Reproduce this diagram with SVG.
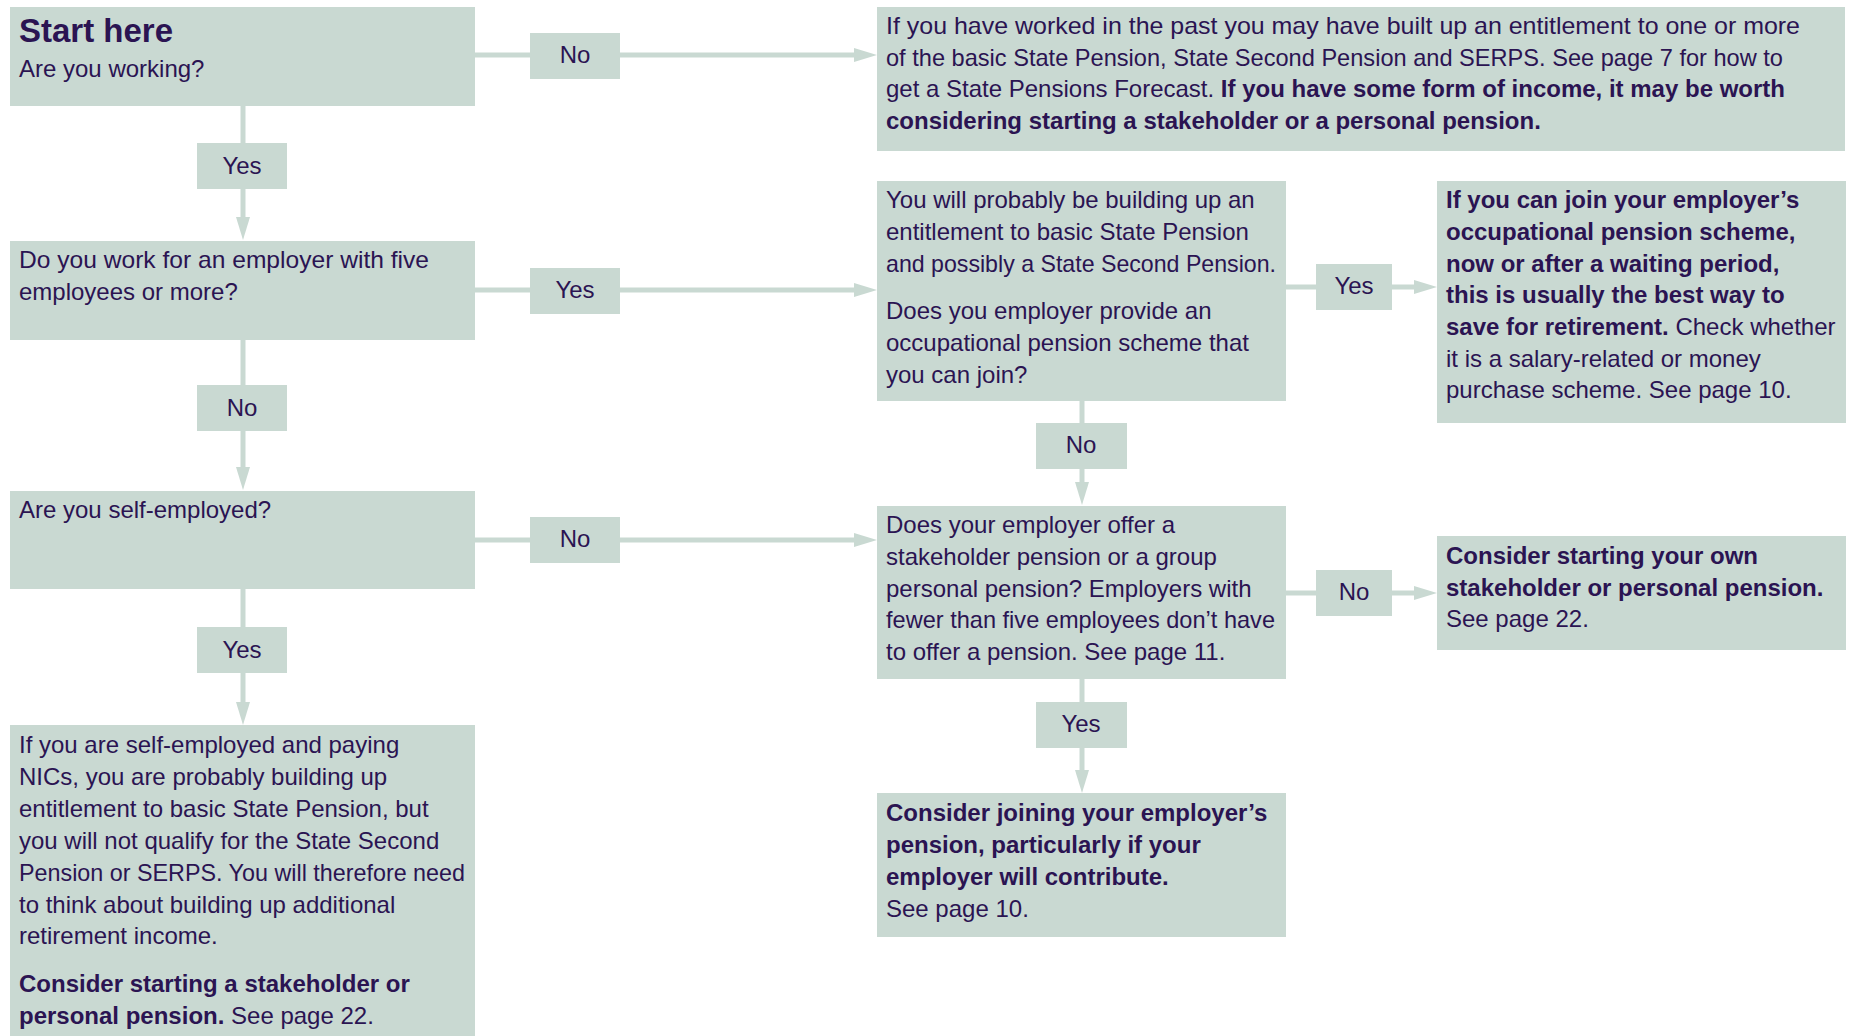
<svg xmlns="http://www.w3.org/2000/svg" width="1859" height="1036" viewBox="0 0 1859 1036">
  <style>
    .box { fill: #C9D9D2; }
    .lbl { fill: #C9D9D2; }
    .t { font-family: "Liberation Sans", Arial, sans-serif; font-size: 24px; fill: #2B1452; }
    .b { font-weight: bold; }
    .c { text-anchor: middle; }
    .h { font-size: 33px; font-weight: bold; }
    .conn { stroke: #C9D9D2; stroke-width: 5; fill: none; }
  </style>
  <defs>
    <marker id="arr" markerUnits="userSpaceOnUse" markerWidth="24" markerHeight="14" refX="0" refY="7" orient="auto">
      <path d="M0,0 L23,7 L0,14 Z" fill="#C9D9D2"/>
    </marker>
  </defs>
  <rect width="1859" height="1036" fill="#FFFFFF"/>

  <g id="connectors">
    <line class="conn" x1="243" y1="106" x2="243" y2="217" marker-end="url(#arr)"/>
    <line class="conn" x1="243" y1="340" x2="243" y2="467" marker-end="url(#arr)"/>
    <line class="conn" x1="243" y1="589" x2="243" y2="702" marker-end="url(#arr)"/>
    <line class="conn" x1="475" y1="55" x2="854" y2="55" marker-end="url(#arr)"/>
    <line class="conn" x1="475" y1="290" x2="854" y2="290" marker-end="url(#arr)"/>
    <line class="conn" x1="475" y1="540" x2="854" y2="540" marker-end="url(#arr)"/>
    <line class="conn" x1="1082" y1="401" x2="1082" y2="482" marker-end="url(#arr)"/>
    <line class="conn" x1="1082" y1="679" x2="1082" y2="770" marker-end="url(#arr)"/>
    <line class="conn" x1="1286" y1="287" x2="1414" y2="287" marker-end="url(#arr)"/>
    <line class="conn" x1="1286" y1="593" x2="1414" y2="593" marker-end="url(#arr)"/>

    <g id="lbl-a-b"><rect class="lbl" x="197" y="143" width="90" height="46"/><text class="t c" x="242" y="174">Yes</text></g>
    <g id="lbl-b-c"><rect class="lbl" x="197" y="385" width="90" height="46"/><text class="t c" x="242" y="416">No</text></g>
    <g id="lbl-c-d"><rect class="lbl" x="197" y="627" width="90" height="46"/><text class="t c" x="242" y="658">Yes</text></g>
    <g id="lbl-a-e"><rect class="lbl" x="530" y="33" width="90" height="46"/><text class="t c" x="575" y="63">No</text></g>
    <g id="lbl-b-f"><rect class="lbl" x="530" y="268" width="90" height="46"/><text class="t c" x="575" y="298">Yes</text></g>
    <g id="lbl-c-g"><rect class="lbl" x="530" y="517" width="90" height="46"/><text class="t c" x="575" y="547">No</text></g>
    <g id="lbl-f-g"><rect class="lbl" x="1036" y="423" width="91" height="46"/><text class="t c" x="1081" y="453">No</text></g>
    <g id="lbl-g-h"><rect class="lbl" x="1036" y="702" width="91" height="46"/><text class="t c" x="1081" y="732">Yes</text></g>
    <g id="lbl-f-i"><rect class="lbl" x="1316" y="264" width="76" height="46"/><text class="t c" x="1354" y="294">Yes</text></g>
    <g id="lbl-g-j"><rect class="lbl" x="1316" y="570" width="76" height="46"/><text class="t c" x="1354" y="600">No</text></g>
  </g>

  <g id="node-start">
    <rect class="box" x="10" y="7" width="465" height="99"/>
    <text class="t h" x="19" y="42">Start here</text>
    <text class="t" x="19" y="77">Are you working?</text>
  </g>

  <g id="node-employer">
    <rect class="box" x="10" y="241" width="465" height="99"/>
    <text class="t" x="19" y="268" textLength="410" lengthAdjust="spacingAndGlyphs">Do you work for an employer with five</text>
    <text class="t" x="19" y="300">employees or more?</text>
  </g>

  <g id="node-self">
    <rect class="box" x="10" y="491" width="465" height="98"/>
    <text class="t" x="19" y="518">Are you self-employed?</text>
  </g>

  <g id="node-self-result">
    <rect class="box" x="10" y="725" width="465" height="311"/>
    <text class="t" x="19" y="753">If you are self-employed and paying</text>
    <text class="t" x="19" y="785">NICs, you are probably building up</text>
    <text class="t" x="19" y="817">entitlement to basic State Pension, but</text>
    <text class="t" x="19" y="849">you will not qualify for the State Second</text>
    <text class="t" x="19" y="881" textLength="446" lengthAdjust="spacingAndGlyphs">Pension or SERPS. You will therefore need</text>
    <text class="t" x="19" y="913">to think about building up additional</text>
    <text class="t" x="19" y="944">retirement income.</text>
    <text class="t b" x="19" y="992">Consider starting a stakeholder or</text>
    <text class="t" x="19" y="1024"><tspan class="b">personal pension.</tspan> See page 22.</text>
  </g>

  <g id="node-past">
    <rect class="box" x="877" y="7" width="968" height="144"/>
    <text class="t" x="886" y="34" textLength="914" lengthAdjust="spacingAndGlyphs">If you have worked in the past you may have built up an entitlement to one or more</text>
    <text class="t" x="886" y="66" textLength="897" lengthAdjust="spacingAndGlyphs">of the basic State Pension, State Second Pension and SERPS. See page 7 for how to</text>
    <text class="t" x="886" y="97">get a State Pensions Forecast. <tspan class="b">If you have some form of income, it may be worth</tspan></text>
    <text class="t b" x="886" y="129">considering starting a stakeholder or a personal pension.</text>
  </g>

  <g id="node-occupational">
    <rect class="box" x="877" y="181" width="409" height="220"/>
    <text class="t" x="886" y="208">You will probably be building up an</text>
    <text class="t" x="886" y="240">entitlement to basic State Pension</text>
    <text class="t" x="886" y="272" textLength="390" lengthAdjust="spacingAndGlyphs">and possibly a State Second Pension.</text>
    <text class="t" x="886" y="319">Does you employer provide an</text>
    <text class="t" x="886" y="351">occupational pension scheme that</text>
    <text class="t" x="886" y="383">you can join?</text>
  </g>

  <g id="node-join-occupational">
    <rect class="box" x="1437" y="181" width="409" height="242"/>
    <text class="t b" x="1446" y="208">If you can join your employer’s</text>
    <text class="t b" x="1446" y="240">occupational pension scheme,</text>
    <text class="t b" x="1446" y="272">now or after a waiting period,</text>
    <text class="t b" x="1446" y="303">this is usually the best way to</text>
    <text class="t" x="1446" y="335"><tspan class="b">save for retirement.</tspan> Check whether</text>
    <text class="t" x="1446" y="367">it is a salary-related or money</text>
    <text class="t" x="1446" y="398">purchase scheme. See page 10.</text>
  </g>

  <g id="node-stakeholder-offer">
    <rect class="box" x="877" y="506" width="409" height="173"/>
    <text class="t" x="886" y="533">Does your employer offer a</text>
    <text class="t" x="886" y="565">stakeholder pension or a group</text>
    <text class="t" x="886" y="597">personal pension? Employers with</text>
    <text class="t" x="886" y="628" textLength="389" lengthAdjust="spacingAndGlyphs">fewer than five employees don’t have</text>
    <text class="t" x="886" y="660">to offer a pension. See page 11.</text>
  </g>

  <g id="node-own-pension">
    <rect class="box" x="1437" y="536" width="409" height="114"/>
    <text class="t b" x="1446" y="564">Consider starting your own</text>
    <text class="t b" x="1446" y="596">stakeholder or personal pension.</text>
    <text class="t" x="1446" y="627">See page 22.</text>
  </g>

  <g id="node-join-employer">
    <rect class="box" x="877" y="793" width="409" height="144"/>
    <text class="t b" x="886" y="821">Consider joining your employer’s</text>
    <text class="t b" x="886" y="853">pension, particularly if your</text>
    <text class="t b" x="886" y="885">employer will contribute.</text>
    <text class="t" x="886" y="917">See page 10.</text>
  </g>
</svg>
